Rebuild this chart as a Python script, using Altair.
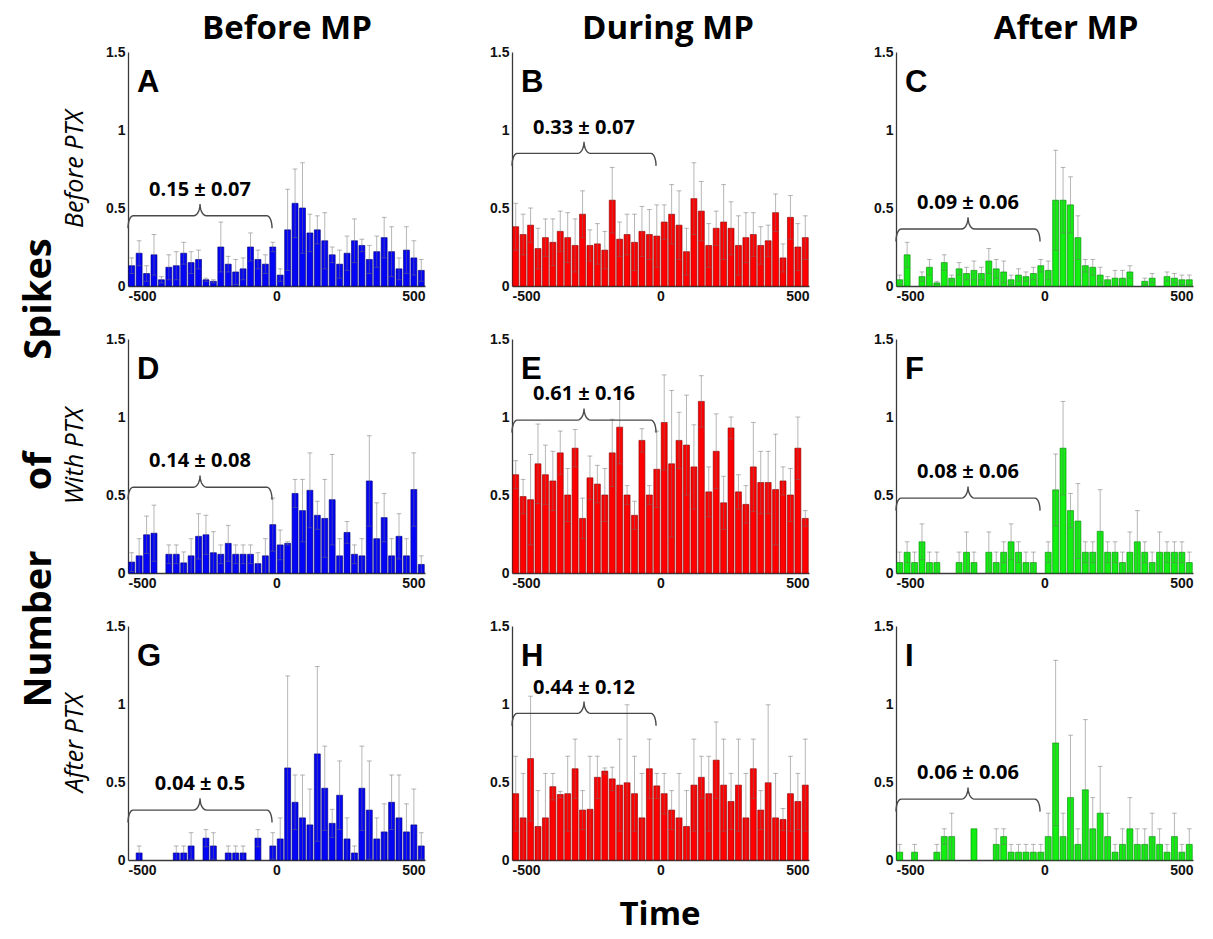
import numpy as np
import pandas as pd
import altair as alt

# 25 ms bins from -500 to +500 ms around the stimulus
BIN_WIDTH = 25
bin_start = np.arange(-500, 500, BIN_WIDTH)

# Mean spike count per bin and its error, one pair per panel
a_mean = [0.13, 0.21, 0.08, 0.20, 0.04, 0.12, 0.13, 0.21, 0.15, 0.17,
          0.04, 0.03, 0.25, 0.14, 0.09, 0.11, 0.25, 0.17, 0.14, 0.25,
          0.07, 0.36, 0.53, 0.50, 0.34, 0.36, 0.29, 0.20, 0.14, 0.21,
          0.29, 0.26, 0.17, 0.22, 0.31, 0.22, 0.11, 0.23, 0.18, 0.10]
a_err = [0.05, 0.08, 0.05, 0.13, 0.02, 0.08, 0.09, 0.07, 0.07, 0.06,
         0.01, 0.01, 0.16, 0.05, 0.08, 0.07, 0.09, 0.06, 0.06, 0.03,
         0.04, 0.26, 0.22, 0.29, 0.12, 0.09, 0.18, 0.05, 0.09, 0.11,
         0.14, 0.04, 0.09, 0.10, 0.13, 0.16, 0.07, 0.15, 0.11, 0.07]

b_mean = [0.38, 0.33, 0.39, 0.24, 0.31, 0.28, 0.35, 0.31, 0.26, 0.46,
          0.26, 0.27, 0.23, 0.55, 0.30, 0.33, 0.28, 0.35, 0.33, 0.32,
          0.41, 0.46, 0.39, 0.22, 0.56, 0.48, 0.26, 0.37, 0.41, 0.37,
          0.26, 0.31, 0.33, 0.26, 0.29, 0.47, 0.18, 0.44, 0.25, 0.31]
b_err = [0.15, 0.13, 0.11, 0.13, 0.12, 0.15, 0.13, 0.16, 0.17, 0.15,
         0.10, 0.13, 0.12, 0.21, 0.11, 0.13, 0.18, 0.16, 0.16, 0.20,
         0.11, 0.19, 0.22, 0.15, 0.23, 0.19, 0.14, 0.11, 0.24, 0.17,
         0.19, 0.16, 0.14, 0.12, 0.10, 0.12, 0.09, 0.14, 0.15, 0.14]

c_mean = [0.04, 0.20, 0.00, 0.06, 0.12, 0.02, 0.15, 0.05, 0.11, 0.08,
          0.10, 0.08, 0.16, 0.11, 0.09, 0.04, 0.07, 0.06, 0.08, 0.13,
          0.10, 0.55, 0.55, 0.52, 0.31, 0.13, 0.12, 0.07, 0.04, 0.05,
          0.05, 0.09, 0.00, 0.03, 0.05, 0.00, 0.06, 0.05, 0.04, 0.04]
c_err = [0.03, 0.08, 0.00, 0.03, 0.05, 0.01, 0.05, 0.02, 0.04, 0.04,
         0.06, 0.04, 0.08, 0.06, 0.07, 0.03, 0.04, 0.03, 0.04, 0.04,
         0.06, 0.32, 0.21, 0.18, 0.14, 0.04, 0.05, 0.05, 0.02, 0.05,
         0.05, 0.04, 0.00, 0.02, 0.03, 0.00, 0.03, 0.03, 0.03, 0.03]

d_mean = [0.07, 0.11, 0.245, 0.255, 0.00, 0.12, 0.12, 0.065, 0.11, 0.235,
          0.245, 0.13, 0.12, 0.19, 0.12, 0.12, 0.12, 0.06, 0.11, 0.31,
          0.18, 0.19, 0.51, 0.40, 0.53, 0.37, 0.35, 0.47, 0.11, 0.26,
          0.12, 0.11, 0.59, 0.22, 0.355, 0.11, 0.235, 0.11, 0.535, 0.055]
d_err = [0.06, 0.11, 0.12, 0.18, 0.00, 0.06, 0.06, 0.07, 0.11, 0.145,
         0.125, 0.135, 0.06, 0.115, 0.06, 0.06, 0.06, 0.07, 0.11, 0.17,
         0.095, 0.01, 0.09, 0.20, 0.24, 0.09, 0.25, 0.29, 0.11, 0.07,
         0.06, 0.11, 0.29, 0.23, 0.155, 0.11, 0.145, 0.11, 0.235, 0.055]

e_mean = [0.63, 0.49, 0.47, 0.70, 0.63, 0.59, 0.77, 0.50, 0.80, 0.35,
          0.61, 0.57, 0.50, 0.77, 0.935, 0.50, 0.37, 0.85, 0.50, 0.665,
          0.965, 0.70, 0.85, 0.82, 0.68, 1.10, 0.52, 0.78, 0.45, 0.93,
          0.52, 0.44, 0.68, 0.58, 0.58, 0.535, 0.59, 0.50, 0.80, 0.35]
e_err = [0.09, 0.11, 0.29, 0.255, 0.19, 0.19, 0.14, 0.17, 0.12, 0.13,
         0.14, 0.12, 0.17, 0.215, 0.235, 0.06, 0.09, 0.075, 0.06, 0.245,
         0.305, 0.47, 0.18, 0.32, 0.27, 0.165, 0.16, 0.24, 0.17, 0.07,
         0.11, 0.12, 0.285, 0.20, 0.20, 0.355, 0.09, 0.17, 0.20, 0.05]

f_mean = [0.067, 0.133, 0.067, 0.2, 0.067, 0.067, 0, 0, 0.067, 0.133,
          0.067, 0, 0.133, 0.067, 0.133, 0.2, 0.133, 0.067, 0.067, 0,
          0.133, 0.533, 0.8, 0.4, 0.333, 0.133, 0.133, 0.267, 0.133, 0.133,
          0.067, 0.133, 0.2, 0.133, 0.067, 0.133, 0.133, 0.133, 0.133, 0.067]
f_err = [0.067, 0.067, 0.067, 0.115, 0.067, 0.067, 0, 0, 0.067, 0.13,
         0.067, 0, 0.13, 0.067, 0.067, 0.115, 0.067, 0.067, 0.067, 0,
         0.067, 0.23, 0.3, 0.11, 0.24, 0.067, 0.067, 0.267, 0.067, 0.067,
         0.067, 0.13, 0.2, 0.067, 0.067, 0.13, 0.067, 0.067, 0.067, 0.067]

g_mean = [0, 0.045, 0, 0, 0, 0, 0.045, 0.045, 0.09, 0,
          0.14, 0.09, 0, 0.045, 0.045, 0.045, 0, 0.14, 0, 0.09,
          0.135, 0.59, 0.37, 0.27, 0.225, 0.68, 0.46, 0.235, 0.415, 0.135,
          0.045, 0.46, 0.32, 0.135, 0.18, 0.37, 0.27, 0.18, 0.225, 0.09]
g_err = [0, 0.045, 0, 0, 0, 0, 0.045, 0.045, 0.085, 0,
         0.055, 0.085, 0, 0.045, 0.045, 0.045, 0, 0.055, 0, 0.085,
         0.135, 0.59, 0.175, 0.275, 0.23, 0.56, 0.27, 0.09, 0.22, 0.135,
         0.045, 0.27, 0.315, 0.135, 0.18, 0.175, 0.275, 0.18, 0.23, 0.085]

h_mean = [0.425, 0.27, 0.65, 0.215, 0.27, 0.47, 0.42, 0.425, 0.585, 0.32,
          0.325, 0.53, 0.57, 0.52, 0.48, 0.495, 0.425, 0.27, 0.585, 0.475,
          0.425, 0.32, 0.27, 0.215, 0.48, 0.53, 0.425, 0.64, 0.48, 0.375,
          0.48, 0.27, 0.585, 0.32, 0.495, 0.27, 0.26, 0.425, 0.375, 0.48]
h_err = [0.24, 0.285, 0.40, 0.23, 0.285, 0.085, 0.02, 0.24, 0.19, 0.125,
         0.34, 0.135, 0.02, 0.075, 0.295, 0.50, 0.24, 0.285, 0.19, 0.08,
         0.13, 0.125, 0.285, 0.23, 0.295, 0.135, 0.24, 0.245, 0.295, 0.18,
         0.295, 0.285, 0.19, 0.125, 0.50, 0.285, 0.07, 0.24, 0.18, 0.295]

i_mean = [0.05, 0, 0.05, 0, 0, 0.05, 0.15, 0.15, 0, 0,
          0.2, 0, 0, 0.1, 0.15, 0.05, 0.05, 0.05, 0.05, 0.05,
          0.15, 0.75, 0.15, 0.4, 0.1, 0.45, 0.2, 0.3, 0.15, 0.05,
          0.1, 0.2, 0.1, 0.1, 0.15, 0.1, 0.05, 0.15, 0.05, 0.1]
i_err = [0.05, 0, 0.05, 0, 0, 0.05, 0.05, 0.15, 0, 0,
         0, 0, 0, 0.1, 0.05, 0.05, 0.05, 0.05, 0.05, 0.05,
         0.15, 0.53, 0.15, 0.4, 0.1, 0.45, 0.2, 0.3, 0.15, 0.05,
         0.1, 0.2, 0.1, 0.1, 0.15, 0.1, 0.05, 0.15, 0.05, 0.1]

panel_letters = ["A", "B", "C", "D", "E", "F", "G", "H", "I"]
panel_means = [a_mean, b_mean, c_mean, d_mean, e_mean, f_mean, g_mean, h_mean, i_mean]
panel_errs = [a_err, b_err, c_err, d_err, e_err, f_err, g_err, h_err, i_err]

# Baseline (pre-stimulus) mean ± error, shown over a brace
baseline_labels = ["0.15 \u00b1 0.07", "0.33 \u00b1 0.07", "0.09 \u00b1 0.06",
                   "0.14 \u00b1 0.08", "0.61 \u00b1 0.16", "0.08 \u00b1 0.06",
                   "0.04 \u00b1 0.5", "0.44 \u00b1 0.12", "0.06 \u00b1 0.06"]
brace_level = [0.45, 0.85, 0.365, 0.55, 0.98, 0.48, 0.32, 0.94, 0.39]

column_titles = ["Before MP", "During MP", "After MP"]
column_title_x = [159, 156, 170]
row_titles = ["Before PTX", "With PTX", "After PTX"]

column_fill = ["#0505F5", "#FF0000", "#12EE12"]
column_edge = ["#00007A", "#8A0000", "#008A00"]

W, H = 297, 234
TEXT_FONT = "Open Sans"

x_scale = alt.Scale(domain=[-500, 500], nice=False, zero=False)
y_scale = alt.Scale(domain=[0, 1.5], nice=False)
x_axis = alt.Axis(values=[-500, 0, 500], labelExpr="'' + datum.value", title=None)
y_axis = alt.Axis(values=[0, 0.5, 1, 1.5], labelExpr="'' + datum.value", title=None)


def xq(field):
    return alt.X(f"{field}:Q", scale=x_scale, axis=x_axis)


def yq(field):
    return alt.Y(f"{field}:Q", scale=y_scale, axis=y_axis)


def brace_path(x0, x1, level, depth=0.08, rx=17, cusp_rx=22, cusp_h=0.075):
    """Curly brace from x0 to x1 with ends curling down and a cusp up."""
    xm = (x0 + x1) / 2
    t = np.linspace(0, np.pi / 2, 8)
    pts = []
    pts += list(zip(x0 + rx - rx * np.cos(t), level - depth + depth * np.sin(t)))
    pts += list(zip(xm - cusp_rx + cusp_rx * np.sin(t), level + cusp_h - cusp_h * np.cos(t)))
    pts += list(zip(xm + cusp_rx - cusp_rx * np.sin(t[::-1]), level + cusp_h - cusp_h * np.cos(t[::-1])))
    pts += list(zip(x1 - rx + rx * np.cos(t[::-1]), level - depth + depth * np.sin(t[::-1])))
    df = pd.DataFrame(pts, columns=["bx", "by"])
    df["seq"] = np.arange(len(df))
    return df


def make_panel(k):
    row, col = divmod(k, 3)
    mean = np.array(panel_means[k], dtype=float)
    err = np.array(panel_errs[k], dtype=float)
    df = pd.DataFrame({"start": bin_start, "mean": mean, "err": err})
    df["x0"] = df["start"] + 2.5
    df["x1"] = df["start"] + BIN_WIDTH - 2.5
    df["center"] = df["start"] + BIN_WIDTH / 2
    df["cap0"] = df["center"] - 8
    df["cap1"] = df["center"] + 8
    df["hi"] = df["mean"] + df["err"]
    df["lo"] = (df["mean"] - df["err"]).clip(lower=0)

    bars = alt.Chart(df[df["mean"] > 0]).mark_bar(
        fill=column_fill[col], stroke=column_edge[col], strokeWidth=0.8, strokeOpacity=0.8
    ).encode(x=xq("x0"), x2="x1:Q", y=yq("mean"), y2=alt.datum(0))

    err_df = df[df["err"] > 0]
    err_style = dict(color="#6f6f6f", opacity=0.5, strokeWidth=1)
    stems = alt.Chart(err_df).mark_rule(**err_style).encode(
        x=xq("center"), y=yq("lo"), y2="hi:Q")
    caps_hi = alt.Chart(err_df).mark_rule(**err_style).encode(
        x=xq("cap0"), x2="cap1:Q", y=yq("hi"))
    caps_lo = alt.Chart(err_df[err_df["lo"] > 0]).mark_rule(**err_style).encode(
        x=xq("cap0"), x2="cap1:Q", y=yq("lo"))

    brace_df = brace_path(-500, -15, brace_level[k])
    brace = alt.Chart(brace_df).mark_line(color="#4a4a4a", strokeWidth=1.4).encode(
        x=xq("bx"), y=yq("by"), order="seq:Q")

    label_df = pd.DataFrame({"lx": [(-500 - 15) / 2], "ly": [brace_level[k] + 0.165],
                             "t": [baseline_labels[k]]})
    label = alt.Chart(label_df).mark_text(
        font=TEXT_FONT, fontWeight="bold", fontSize=20, color="#000"
    ).encode(x=xq("lx"), y=yq("ly"), text="t:N")

    letter = alt.Chart(pd.DataFrame({"t": [panel_letters[k]]})).mark_text(
        font="Liberation Sans", fontWeight="bold", fontSize=31, align="left",
        baseline="alphabetic", color="#000"
    ).encode(x=alt.value(9), y=alt.value(40), text="t:N")

    layers = [bars, stems, caps_hi, caps_lo, brace, label, letter]

    if row == 0:
        layers.append(alt.Chart(pd.DataFrame({"t": [column_titles[col]]})).mark_text(
            font=TEXT_FONT, fontWeight="bold", fontSize=33, baseline="alphabetic", color="#000"
        ).encode(x=alt.value(column_title_x[col]), y=alt.value(-13), text="t:N"))

    if col == 0:
        layers.append(alt.Chart(pd.DataFrame({"t": [row_titles[row]]})).mark_text(
            font=TEXT_FONT, fontStyle="italic", fontSize=25, angle=270,
            baseline="middle", color="#000"
        ).encode(x=alt.value(-53), y=alt.value(H / 2), text="t:N"))

    if row == 1 and col == 0:
        words = pd.DataFrame({"t": ["Spikes", "of", "Number"], "wy": [-40, 132, 290]})
        layers.append(alt.Chart(words).mark_text(
            font=TEXT_FONT, fontWeight="bold", fontSize=38, angle=270,
            baseline="middle", color="#000"
        ).encode(x=alt.value(-88), y=alt.Y("wy:Q", scale=None, axis=None), text="t:N"))

    if row == 2 and col == 1:
        layers.append(alt.Chart(pd.DataFrame({"t": ["Time"]})).mark_text(
            font=TEXT_FONT, fontWeight="bold", fontSize=33, baseline="alphabetic", color="#000"
        ).encode(x=alt.value(148), y=alt.value(H + 65), text="t:N"))

    return alt.layer(*layers).properties(width=W, height=H)


panels = [make_panel(k) for k in range(9)]

chart = alt.concat(
    *panels, columns=3, spacing={"row": 53, "column": 87}, bounds="flush"
).properties(
    padding={"left": 21, "top": 13, "right": 5, "bottom": 5},
    background="white",
).configure_view(
    stroke=None
).configure_axis(
    domainColor="#3a3a3a", domainWidth=1.3, ticks=False, grid=False,
    labelFont="Liberation Sans", labelFontWeight="bold", labelFontSize=14,
    labelColor="#111", labelPadding=3,
)

chart.save("out.html", embed_options={"renderer": "svg", "actions": False})
